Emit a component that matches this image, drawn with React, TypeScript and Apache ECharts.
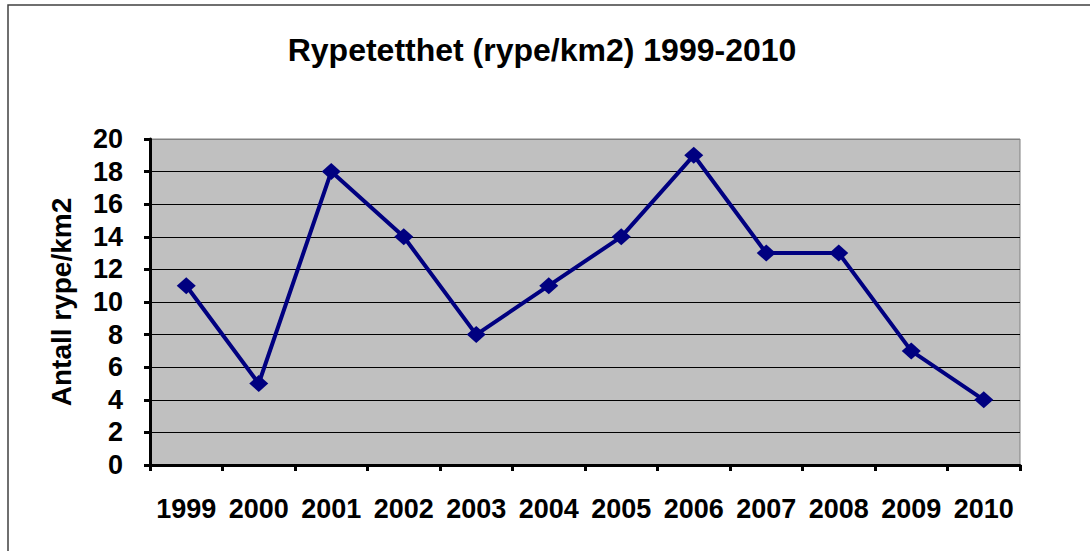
import React, { useEffect, useRef } from "react";
import * as echarts from "echarts";

const years = ["1999", "2000", "2001", "2002", "2003", "2004", "2005", "2006", "2007", "2008", "2009", "2010"];
const density = [11, 5, 18, 14, 8, 11, 14, 19, 13, 13, 7, 4];
const titleText = "Rypetetthet (rype/km2) 1999-2010";
const yAxisName = "Antall rype/km2";

export default function App() {
  const ref = useRef<HTMLDivElement>(null);
  useEffect(() => {
    if (!ref.current) return;
    const chart = echarts.init(ref.current, null, { renderer: "svg" });
    const font = "Arial, 'Liberation Sans', sans-serif";
    const splitColors = ["#000", "#000", "#000", "#000", "#000", "#000", "#000", "#000", "#000", "#000", "#808080"];
    chart.setOption({
      animation: false,
      backgroundColor: "#fff",
      title: {
        text: titleText,
        left: 537,
        top: 29,
        textAlign: "center",
        textStyle: { fontFamily: font, fontSize: 32, fontWeight: "bold", color: "#000" },
      },
      graphic: [
        {
          type: "rect",
          shape: { x: 8, y: 5, width: 1200, height: 700 },
          style: { fill: "none", stroke: "#404040", lineWidth: 1.5 },
          silent: true,
        },
      ],
      grid: {
        left: 150,
        right: 70,
        top: 139,
        bottom: 86,
        show: true,
        backgroundColor: "#C0C0C0",
        borderColor: "#808080",
        borderWidth: 1,
      },
      xAxis: {
        type: "category",
        data: years,
        boundaryGap: true,
        axisLine: { show: true, lineStyle: { color: "#000", width: 3 } },
        axisTick: { show: true, interval: 0, length: 6, lineStyle: { color: "#000", width: 3 } },
        axisLabel: { interval: 0, margin: 30, fontFamily: font, fontSize: 27, fontWeight: "bold", color: "#000" },
        splitLine: { show: false },
      },
      yAxis: {
        type: "value",
        min: 0,
        max: 20,
        interval: 2,
        name: yAxisName,
        nameLocation: "middle",
        nameGap: 75,
        nameTextStyle: { fontFamily: font, fontSize: 28, fontWeight: "bold", color: "#000" },
        axisLine: { show: true, lineStyle: { color: "#000", width: 3 } },
        axisTick: { show: true, length: 6, lineStyle: { color: "#000", width: 3 } },
        axisLabel: { margin: 27, fontFamily: font, fontSize: 27, fontWeight: "bold", color: "#000" },
        splitLine: { show: true, lineStyle: { color: splitColors, width: 1 } },
      },
      series: [
        {
          type: "line",
          data: density,
          symbol: "diamond",
          symbolSize: [19, 17],
          lineStyle: { color: "#000080", width: 4 },
          itemStyle: { color: "#000080" },
        },
      ],
    });
    return () => chart.dispose();
  }, []);
  return <div ref={ref} style={{ position: "fixed", left: 0, top: 0, width: 1090, height: 551 }} />;
}
